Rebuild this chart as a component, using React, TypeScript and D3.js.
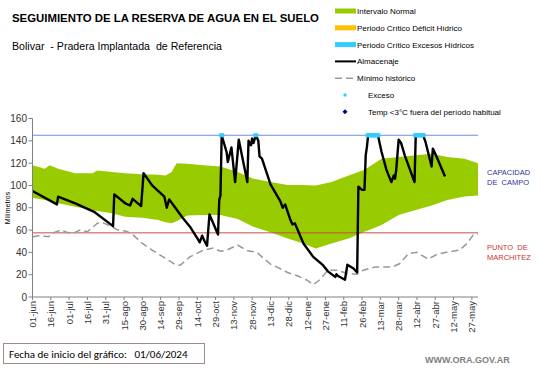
import React from "react";
import * as d3 from "d3";

// ---- data (day offsets from 01/06/2024) ----
const tickLabels = ["01-jun","16-jun","01-jul","16-jul","31-jul","15-ago","30-ago","14-sep","29-sep","14-oct","29-oct","13-nov","28-nov","13-dic","28-dic","12-ene","27-ene","11-feb","26-feb","13-mar","28-mar","12-abr","27-abr","12-may","27-may"];
const yTicks = [0, 20, 40, 60, 80, 100, 120, 140, 160];

const bandDays = [0,10,14,21,35,49,53,65,76,90,103,109,114,118,127,140,154,168,181,195,209,222,232,245,259,272,286,300,314,327,340,354,365];
const bandUpper = [118,115,118,115,111,111,113.5,112,111,110,109.5,109,112,120,119.5,118,117,112,106,103,100.5,100.5,100,103,109,114,124,125.5,127,128.5,125.5,124,120];
const bandLower = [89,87,86,84,81,78,77,75,72,71,69,67,66,68,73,73.5,73.5,70,63,58,52.5,48,43.5,48,52.5,58.5,64.5,73.5,78,82,87,90,91];

const storageDays = [0,20,21,35,51,66,67,76,80,82,89,91,98,108,110,112,117,123,129,136,137,139,141,143,145,152,153,154,155,159,160,163,166,169,176,177,179,180,181,183,185,186,188,195,203,205,207,211,213,215,222,230,238,242,248,249,250,256,258,263,266,267,270,272,273,274,275,283,286,290,294,296,297,298,300,302,305,313,314,320,322,327,328,331,338];
const storageValues = [95,83,90,84,76,63.5,92,84,82,88,81.5,111,100,90,80,87.5,80,71,63,51,49,55,50,46,74,56,87,91,145,130,121,134,103,141,103,140,136,142,138,145,140,126,124,101,86,80,83,70,65,66,48,36,28.5,23,18,20.5,19,15.5,29,25.5,22,98.8,96,96,127,134.5,145,145,130,114,103,109,106,114,141,138,127,103,145,145,139,117,133,126,108];

const minDays = [0,6,13,18,23,28,33,39,45,53,57,65,70,77,82,90,98,107,117,121,129,140,148,154,159,168,176,184,189,195,200,209,217,225,230,236,242,250,258,266,271,281,289,295,301,308,315,324,332,341,350,356,361,365];
const minValues = [54,55,54,58,60,58,57,60,58.5,66,67,63,60,59,56,48,42,36,29,28.5,36,42,44,41,42,46.6,41.5,40,35,29.5,27,22,19,15,11,16,24,24,21,20.5,24,27,27,27,30,39,40,34,38.5,40.5,42,48,55.5,56];

const excessDays = [155,183,275,276,277,278,279,280,281,282,283,314,315,316,317,318,319,320];

const fieldCapacity = 145;
const wiltingPoint = 57.5;

const legendItems = [
  { label: "Intervalo Normal", kind: "rect", color: "#99cc00" },
  { label: "Periodo Crítico Déficit Hídrico", kind: "rect", color: "#ffc000" },
  { label: "Periodo Crítico Excesos Hídricos", kind: "rect", color: "#33ccff" },
  { label: "Almacenaje", kind: "line", color: "#000000" },
  { label: "Mínimo histórico", kind: "dash", color: "#999999" },
  { label: "Exceso", kind: "dot", color: "#33ccff" },
  { label: "Temp <3°C fuera del período habitual", kind: "diamond", color: "#000099" },
];

export default function App() {
  const W = 541, H = 368;
  const x = d3.scaleLinear().domain([0, 365]).range([32.5, 478]);
  const y = d3.scaleLinear().domain([0, 160]).range([297, 118.5]);
  const font = "Liberation Sans, Arial, sans-serif";

  const band = bandDays.map((d, i) => ({ d, hi: bandUpper[i], lo: bandLower[i] }));
  const areaGen = d3.area<any>().x(p => x(p.d)).y0(p => y(p.lo)).y1(p => y(p.hi));
  const storage = storageDays.map((d, i) => ({ d, v: storageValues[i] }));
  const mins = minDays.map((d, i) => ({ d, v: minValues[i] }));
  const lineGen = d3.line<any>().x(p => x(p.d)).y(p => y(p.v));
  const pre = { whiteSpace: "pre" } as any;

  return (
    <svg width={W} height={H} style={{ position: "absolute", left: 0, top: 0, background: "#fff" }} fontFamily={font}>
      <rect x={0} y={0} width={W} height={H} fill="#fff" />
      <text x={12} y={22} fontSize={11.4} fontWeight="bold" fill="#000">SEGUIMIENTO DE LA RESERVA DE AGUA EN EL SUELO</text>
      <text x={12} y={50} fontSize={11.2} fill="#000" style={pre} textLength={210} lengthAdjust="spacingAndGlyphs">Bolivar  - Pradera Implantada  de Referencia</text>

      {/* legend */}
      {legendItems.map((it, i) => {
        const cy = 11 + i * 16.8;
        let sym: any = null;
        if (it.kind === "rect") sym = <rect x={335} y={cy - 2.5} width={21} height={5} fill={it.color} />;
        else if (it.kind === "line") sym = <line x1={335} x2={356} y1={cy} y2={cy} stroke={it.color} strokeWidth={2} />;
        else if (it.kind === "dash") sym = <line x1={335} x2={356} y1={cy} y2={cy} stroke={it.color} strokeWidth={1.5} strokeDasharray="7,4" />;
        else if (it.kind === "dot") sym = <rect x={343.5} y={cy - 1.5} width={3} height={3} fill={it.color} />;
        else sym = <path d={`M345,${cy - 2.5}L347.5,${cy}L345,${cy + 2.5}L342.5,${cy}Z`} fill={it.color} />;
        const tx = it.kind === "dot" || it.kind === "diamond" ? 368 : 357;
        return (
          <g key={i}>
            {sym}
            <text x={tx} y={cy + 3} fontSize={8} fill="#000">{it.label}</text>
          </g>
        );
      })}

      {/* band */}
      <path d={areaGen(band) || ""} fill="#99cc00" />

      {/* reference lines */}
      <line x1={x(0)} x2={x(365)} y1={y(fieldCapacity)} y2={y(fieldCapacity)} stroke="#6a8fd8" strokeWidth={1} />
      <line x1={x(0)} x2={x(365)} y1={y(wiltingPoint)} y2={y(wiltingPoint)} stroke="#c0504d" strokeWidth={1} />

      {/* minimum */}
      <path d={lineGen(mins) || ""} fill="none" stroke="#999999" strokeWidth={1.5} strokeDasharray="7,4" />
      {/* storage */}
      <path d={lineGen(storage) || ""} fill="none" stroke="#000" strokeWidth={2.4} strokeLinejoin="round" />
      {/* excess markers */}
      {excessDays.map((d, i) => (
        <rect key={i} x={x(d) - 2.5} y={y(fieldCapacity) - 2} width={5} height={4} fill="#33ccff" />
      ))}

      {/* axes */}
      <line x1={x(0)} x2={x(0)} y1={y(0)} y2={y(160)} stroke="#808080" strokeWidth={1} />
      <line x1={x(0)} x2={x(365)} y1={y(0)} y2={y(0)} stroke="#808080" strokeWidth={1} />
      {yTicks.map(t => (
        <g key={t}>
          <line x1={x(0) - 4} x2={x(0)} y1={y(t)} y2={y(t)} stroke="#808080" />
          <text x={27} y={y(t) + 3.5} fontSize={10} textAnchor="end" fill="#333">{t}</text>
        </g>
      ))}
      {tickLabels.map((lab, i) => {
        const tx = x(i * 15);
        return (
          <g key={lab}>
            <line x1={tx} x2={tx} y1={y(0)} y2={y(0) + 3} stroke="#808080" />
            <text transform={`translate(${tx + 3.5},${y(0) + 4}) rotate(-90)`} fontSize={9.5} textAnchor="end" fill="#333">{lab}</text>
          </g>
        );
      })}
      <text transform={`translate(9.5,${208}) rotate(-90)`} fontSize={7} textAnchor="middle" fill="#000">Milímetros</text>

      {/* right labels */}
      <text x={487} y={175} fontSize={7.5} fill="#333399">CAPACIDAD</text>
      <text x={487} y={185} fontSize={7.5} fill="#333399" style={pre}>DE  CAMPO</text>
      <text x={487} y={250} fontSize={7.5} fill="#cc3333" style={pre}>PUNTO  DE</text>
      <text x={487} y={260} fontSize={7.5} fill="#cc3333">MARCHITEZ</text>

      {/* footer */}
      <rect x={3.5} y={343.5} width={201} height={20} fill="#fff" stroke="#a08c8c" strokeWidth={1} />
      <text x={9} y={358} fontSize={11} fill="#000" style={pre} fontFamily="Carlito, Calibri, 'Open Sans', sans-serif">Fecha de inicio del gráfico:   01/06/2024</text>
      <text x={425} y={363} fontSize={9} fontWeight="bold" fill="#808080">WWW.ORA.GOV.AR</text>
    </svg>
  );
}
